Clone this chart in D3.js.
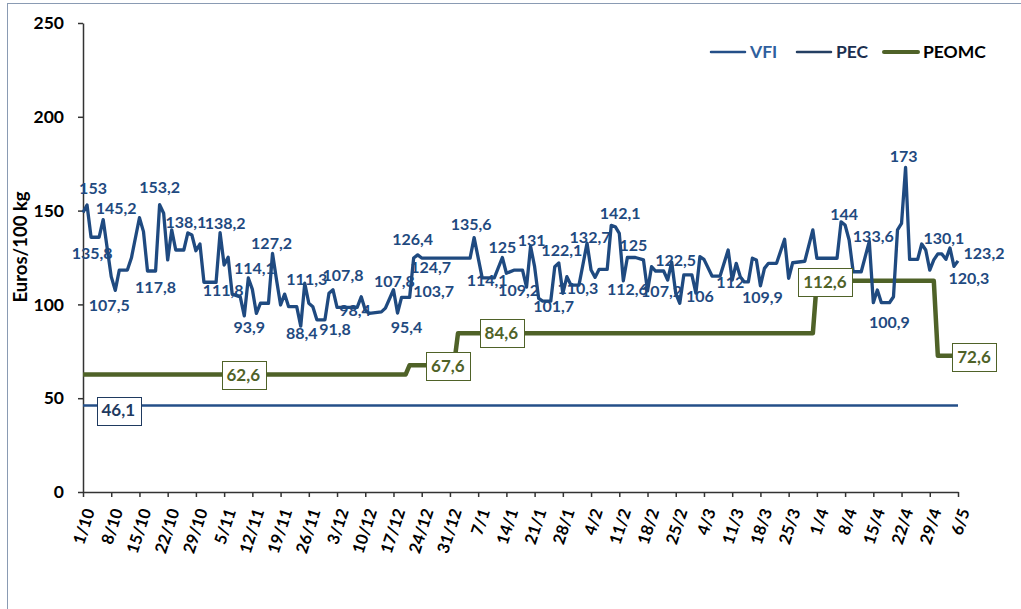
<!DOCTYPE html>
<html><head><meta charset="utf-8">
<script src="https://cdn.jsdelivr.net/npm/d3@7"></script>
<style>
html,body{margin:0;padding:0;background:#fff;}
svg text{font-family:Lato,"Open Sans",sans-serif;font-weight:700;}
</style></head>
<body><svg id="c" width="1021" height="609"></svg>
<script>
// ---- data ----
const xTickLabels = ["1/10","8/10","15/10","22/10","29/10","5/11","12/11","19/11","26/11","3/12","10/12","17/12","24/12","31/12","7/1","14/1","21/1","28/1","4/2","11/2","18/2","25/2","4/3","11/3","18/3","25/3","1/4","8/4","15/4","22/4","29/4","6/5"];
const yTicks = [0,50,100,150,200,250];
// days counted from 1/10
const pecDays = [0,1,2,4,5,7,8,9,11,12,14,15,16,18,19,20,21,22,23,25,26,27,28,29,30,33,34,35,36,37,39,40,41,42,43,44,46,47,48,49,50,51,53,54,55,56,57,58,60,61,62,63,68,69,70,71,74,75,77,78,79,81,82,83,84,96,97,99,102,104,105,107,109,110,111,112,113,114,116,117,118,119,120,121,123,124,125,126,127,128,130,131,132,133,134,135,137,139,140,141,142,144,145,146,147,148,149,151,152,153,154,156,158,160,161,162,163,164,165,166,167,168,169,170,172,174,175,176,179,181,182,187,188,189,190,191,193,195,196,197,198,200,201,202,203,204,205,207,208,209,210,211,212,213,214,215,216,217];
const pecValues = [149,153,135.8,135.8,145.2,114.8,107.5,118.3,118.3,124.7,146.2,138.8,117.8,117.8,153.2,148.6,123.7,139.7,129,129,138.1,137,128.6,132.2,111.8,111.8,138.2,121,125.1,105.5,104,93.9,114.1,108,95.2,100.6,100.6,127.2,113,99.7,105.5,98.8,98.8,88.4,111.3,100.6,98.8,91.8,91.8,105.9,107.8,98.4,98.4,104.1,97,95.2,96,98,107.8,95.4,103.7,103.7,124.7,126.4,124.7,124.7,135.6,114.1,114.1,125,116.6,118.3,118.3,109.2,131,120.1,103.2,101.7,101.7,120.1,122.1,105.9,114.8,110.3,110.3,121.4,132.7,118.3,114.4,118.7,118.7,142.1,141.4,137.9,112.6,125,125,123.7,107.2,120.1,117.8,117.8,113,122.5,105.9,100.6,115.7,115.7,106,125.4,124,115.1,115.1,129,113,121.9,114.8,112,112,124.6,123.7,109.9,119.2,121.9,121.9,134.7,113.9,122.2,123,139.7,124.6,124.6,144,142.3,134.3,117.4,117.4,133.6,100.9,107.7,100.9,100.9,104.1,139.7,143.2,173,124,124,132.2,129,118.3,123.7,126.9,126.9,124,130.1,120.3,123.2];
const peomcDays = [0,80,81,92,93,181,182,211,212,217];
const peomcValues = [62.6,62.6,67.6,67.6,84.6,84.6,112.6,112.6,72.6,72.6];
const vfiDays = [0,217];
const vfiValues = [46.1,46.1];
const seriesNames = ["VFI","PEC","PEOMC"];
// labelled points (day) and label offsets from the point
const pecLabelDays = [1,2,8,5,16,19,26,34,33,40,41,47,54,55,62,60,63,77,78,81,82,83,97,99,104,110,111,114,118,121,125,131,134,135,140,146,152,164,168,188,195,198,204,215,216,217];
const pecLabelOffsets = [[6,-17],[1,16],[-6,15],[13,-11],[8,16],[0,-17],[-2,-11],[5,-9],[7,8],[5,12],[6,-10],[-1,-10],[1,7],[2,-4],[10,-14],[10,10],[18,3],[1,-8],[9,14],[24,-6],[17,9],[-5,-15],[-3,-13],[5,2],[0,-10],[-8,3],[1,-6],[11,5],[3,-13],[7,3],[3,-6],[9,-12],[4,9],[6,-12],[14,1],[4,-2],[4,3],[-14,1],[2,12],[3,-7],[4,-5],[8,20],[-2,-11],[-6,-10],[15,12],[26,-7]];
const peomcLabelDays = [40,90,104,184,217];
const peomcLabelOffsets = [[-1,0],[2,1],[-1,0],[0,1],[16,1]];
const vfiLabelDays = [9];
const vfiLabelOffsets = [[-1,5]];

// ---- chart ----
const svg = d3.select("#c");
const C_PEC = "#1f4a80", C_VFI = "#244f88", C_GREEN = "#4f6228";

svg.append("rect").attr("x",7.5).attr("y",3.5).attr("width",1040).attr("height",640)
  .attr("fill","#fff").attr("stroke","#8a9bb3").attr("stroke-width",1);

const x = d3.scaleLinear().domain([0,217]).range([83,958]);
const y = d3.scaleLinear().domain([0,250]).range([492,23]);

// axes
const yAxis = svg.append("g").attr("transform","translate(83,0)")
  .call(d3.axisLeft(y).tickValues(yTicks).tickSize(5).tickPadding(14).tickSizeOuter(0));
yAxis.selectAll("text").style("font-size","17.5px").attr("fill","#000");
const xAxis = svg.append("g").attr("transform","translate(0,492)")
  .call(d3.axisBottom(x).tickValues(d3.range(0,218,7)).tickFormat((d,i)=>xTickLabels[i]).tickSize(5).tickSizeOuter(0));
xAxis.selectAll("text").style("font-size","16.5px").attr("fill","#000")
  .attr("x",0).attr("y",0).attr("dy","0.35em").style("text-anchor","end")
  .attr("transform","translate(6,17) rotate(-72)");
svg.selectAll(".domain, .tick line").attr("stroke","#333").attr("stroke-width",1.5);

svg.append("text").attr("transform","translate(27,247) rotate(-90)")
  .attr("text-anchor","middle").style("font-size","18.5px").attr("fill","#000").text("Euros/100 kg");

const line = d3.line().x(d=>x(d[0])).y(d=>y(d[1]));
const zip = (a,b)=>a.map((d,i)=>[d,b[i]]);

svg.append("path").datum(zip(vfiDays,vfiValues)).attr("d",line)
  .attr("fill","none").attr("stroke",C_VFI).attr("stroke-width",2.5);
svg.append("path").datum(zip(peomcDays,peomcValues)).attr("d",line)
  .attr("fill","none").attr("stroke",C_GREEN).attr("stroke-width",4.5).attr("stroke-linejoin","round");
svg.append("path").datum(zip(pecDays,pecValues)).attr("d",line)
  .attr("fill","none").attr("stroke",C_PEC).attr("stroke-width",3.3).attr("stroke-linejoin","round");

const fmt = v => String(v).replace(".",",");
const valueAt = (days, vals, d) => vals[days.indexOf(d)];
const stepAt = (days, vals, d) => { let v = vals[0]; days.forEach((dd,i)=>{ if (dd<=d) v = vals[i]; }); return v; };

// PEC labels
pecLabelDays.forEach((d,i)=>{
  const v = valueAt(pecDays,pecValues,d);
  svg.append("text").attr("x",x(d)+pecLabelOffsets[i][0]).attr("y",y(v)+pecLabelOffsets[i][1])
    .attr("dy","0.35em").attr("text-anchor","middle").style("font-size","16px").attr("fill",C_PEC).text(fmt(v));
});

function boxLabel(cx, cy, txt, color, size){
  const g = svg.append("g");
  const t = g.append("text").attr("x",cx).attr("y",cy).attr("dy","0.35em").attr("text-anchor","middle")
    .style("font-size",size+"px").attr("fill",color).text(txt);
  const bb = t.node().getBBox();
  g.insert("rect","text").attr("x",Math.round(bb.x-5)+0.5).attr("y",Math.round(cy-14)+0.5)
    .attr("width",Math.round(bb.width+10)).attr("height",28).attr("fill","#fff").attr("stroke",color).attr("stroke-width",1);
}
peomcLabelDays.forEach((d,i)=>{
  const v = stepAt(peomcDays,peomcValues,d);
  boxLabel(x(d)+peomcLabelOffsets[i][0], y(v)+peomcLabelOffsets[i][1], fmt(v), C_GREEN, 17);
});
vfiLabelDays.forEach((d,i)=>{
  const v = stepAt(vfiDays,vfiValues,d);
  boxLabel(x(d)+vfiLabelOffsets[i][0], y(v)+vfiLabelOffsets[i][1], fmt(v), "#1f3a60", 17);
});

// legend
const legendColors = [C_VFI,"#243f62",C_GREEN];
const legendText = ["#2f5f9e","#1c2f4f","#000"];
const legendX = [711,797,884];
const legendW = [2.5,2.5,4];
seriesNames.forEach((n,i)=>{
  svg.append("line").attr("x1",legendX[i]).attr("x2",legendX[i]+34).attr("y1",52).attr("y2",52)
    .attr("stroke",legendColors[i]).attr("stroke-width",legendW[i]).attr("stroke-linecap","round");
  svg.append("text").attr("x",legendX[i]+39).attr("y",52).attr("dy","0.35em")
    .style("font-size","17.5px").attr("fill",legendText[i]).text(n);
});
</script></body></html>
